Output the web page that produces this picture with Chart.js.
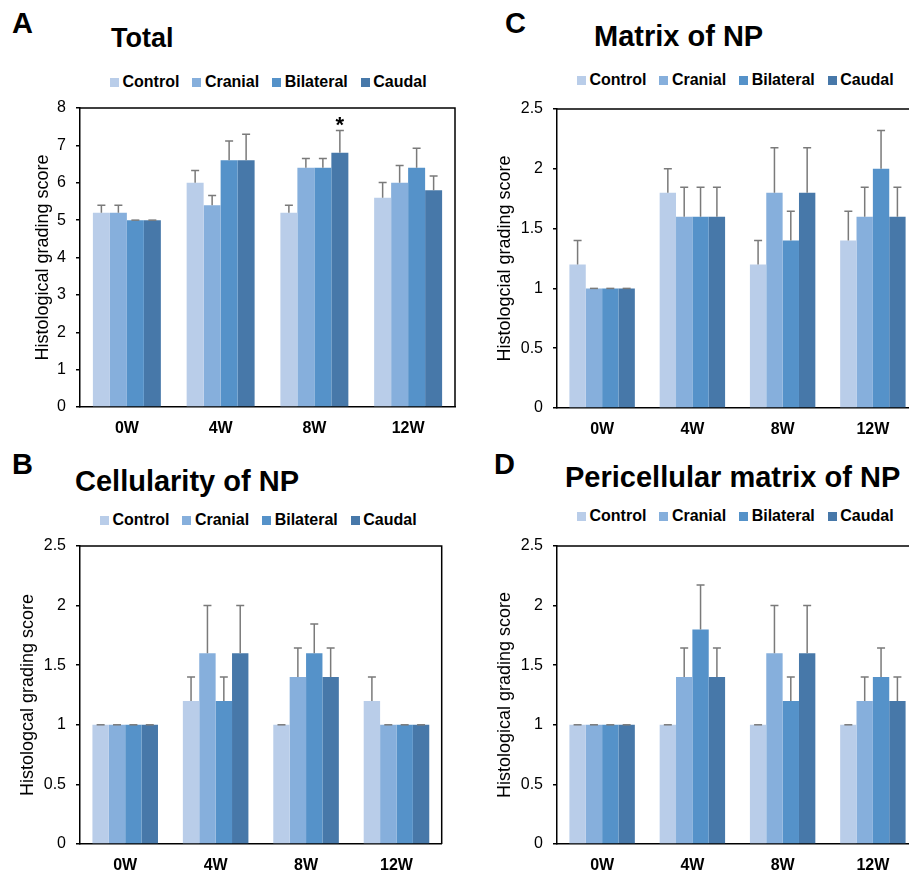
<!DOCTYPE html>
<html><head><meta charset="utf-8">
<script src="https://cdn.jsdelivr.net/npm/chart.js@4.4.1/dist/chart.umd.min.js"></script>
<style>
html,body{margin:0;padding:0;width:909px;height:872px;overflow:hidden;background:#fff;}
body{position:relative;font-family:Arial,"Liberation Sans",sans-serif;color:#000;}
.lbl{position:absolute;font-weight:bold;line-height:1;white-space:nowrap;}
canvas{position:absolute;}
.legend{position:absolute;display:flex;gap:13px;font-weight:bold;font-size:16px;line-height:16px;white-space:nowrap;}
.legend .item{display:inline-flex;align-items:center;}
.legend i{display:inline-block;width:9px;height:9px;margin-right:3.5px;}
</style></head><body>
<div class="lbl" style="left:12px;top:9px;font-size:29px">A</div>
<div class="lbl" style="left:111px;top:25px;font-size:27px">Total</div>
<div class="lbl" style="left:505px;top:9px;font-size:29px">C</div>
<div class="lbl" style="left:594px;top:22px;font-size:29px">Matrix of NP</div>
<div class="lbl" style="left:12px;top:450px;font-size:29px">B</div>
<div class="lbl" style="left:75px;top:467px;font-size:29px">Cellularity of NP</div>
<div class="lbl" style="left:494px;top:450px;font-size:29px">D</div>
<div class="lbl" style="left:565px;top:463px;font-size:29px">Pericellular matrix of NP</div>
<div class="legend" id="legA" style="left:110px;top:74px"></div>
<div class="legend" id="legC" style="left:577px;top:72px"></div>
<div class="legend" id="legB" style="left:100px;top:512px"></div>
<div class="legend" id="legD" style="left:577px;top:508px"></div>
<canvas id="cA"></canvas>
<canvas id="cB"></canvas>
<canvas id="cC"></canvas>
<canvas id="cD"></canvas>
<script>
// ---------- data ----------
const categories = ['0W', '4W', '8W', '12W'];
const seriesNames = ['Control', 'Cranial', 'Bilateral', 'Caudal'];

// A: Total
const totalControl = [5.2, 6.0, 5.2, 5.6];
const totalCranial = [5.2, 5.4, 6.4, 6.0];
const totalBilateral = [5.0, 6.6, 6.4, 6.4];
const totalCaudal = [5.0, 6.6, 6.8, 5.8];
const totalControlErr = [0.2, 0.33, 0.2, 0.41];
const totalCranialErr = [0.2, 0.26, 0.25, 0.46];
const totalBilateralErr = [0, 0.52, 0.25, 0.52];
const totalCaudalErr = [0, 0.7, 0.6, 0.38];
const totalTicks = [0, 1, 2, 3, 4, 5, 6, 7, 8];
const totalMarks = [{series: 3, category: 2, text: '*'}];

// B: Cellularity of NP
const cellControl = [1.0, 1.2, 1.0, 1.2];
const cellCranial = [1.0, 1.6, 1.4, 1.0];
const cellBilateral = [1.0, 1.2, 1.6, 1.0];
const cellCaudal = [1.0, 1.6, 1.4, 1.0];
const cellControlErr = [0, 0.2, 0, 0.2];
const cellCranialErr = [0, 0.4, 0.245, 0];
const cellBilateralErr = [0, 0.2, 0.245, 0];
const cellCaudalErr = [0, 0.4, 0.245, 0];

// C: Matrix of NP
const matControl = [1.2, 1.8, 1.2, 1.4];
const matCranial = [1.0, 1.6, 1.8, 1.6];
const matBilateral = [1.0, 1.6, 1.4, 2.0];
const matCaudal = [1.0, 1.6, 1.8, 1.6];
const matControlErr = [0.2, 0.2, 0.2, 0.245];
const matCranialErr = [0, 0.245, 0.377, 0.245];
const matBilateralErr = [0, 0.245, 0.245, 0.32];
const matCaudalErr = [0, 0.245, 0.377, 0.245];

// D: Pericellular matrix of NP
const periControl = [1.0, 1.0, 1.0, 1.0];
const periCranial = [1.0, 1.4, 1.6, 1.2];
const periBilateral = [1.0, 1.8, 1.2, 1.4];
const periCaudal = [1.0, 1.4, 1.6, 1.2];
const periControlErr = [0, 0, 0, 0];
const periCranialErr = [0, 0.245, 0.4, 0.2];
const periBilateralErr = [0, 0.372, 0.2, 0.245];
const periCaudalErr = [0, 0.245, 0.4, 0.2];

const npTicks = [0, 0.5, 1, 1.5, 2, 2.5];

// ---------- style ----------
const FONT = 'Arial, "Liberation Sans", sans-serif';
const colors = ['#B9CDE9', '#86AFDC', '#5592C9', '#4778A9'];

['legA', 'legB', 'legC', 'legD'].forEach(id => {
  const el = document.getElementById(id);
  seriesNames.forEach((n, i) => {
    const s = document.createElement('span');
    s.className = 'item';
    const b = document.createElement('i');
    b.style.background = colors[i];
    s.appendChild(b);
    s.appendChild(document.createTextNode(n));
    el.appendChild(s);
  });
});

const framePlugin = {
  id: 'frame',
  afterDatasetsDraw(chart) {
    const {ctx, chartArea: a} = chart;
    ctx.save();
    ctx.strokeStyle = '#000';
    ctx.lineWidth = 1.5;
    ctx.beginPath();
    ctx.moveTo(a.left, a.top);
    ctx.lineTo(a.right, a.top);
    ctx.lineTo(a.right, a.bottom);
    ctx.stroke();
    ctx.restore();
  }
};

const errorPlugin = {
  id: 'errbars',
  afterDatasetsDraw(chart) {
    const {ctx} = chart;
    const y = chart.scales.y;
    ctx.save();
    ctx.strokeStyle = '#7A7A7A';
    ctx.lineWidth = 1.5;
    chart.data.datasets.forEach((ds, di) => {
      const meta = chart.getDatasetMeta(di);
      meta.data.forEach((bar, i) => {
        const v = ds.data[i], e = ds.errors[i];
        const yt = y.getPixelForValue(v + e);
        ctx.beginPath();
        ctx.moveTo(bar.x, bar.y);
        ctx.lineTo(bar.x, yt);
        ctx.moveTo(bar.x - 4, yt);
        ctx.lineTo(bar.x + 4, yt);
        ctx.stroke();
      });
    });
    const marks = chart.options.plugins.errbars && chart.options.plugins.errbars.marks || [];
    ctx.fillStyle = '#000';
    ctx.font = 'bold 22px ' + FONT;
    ctx.textAlign = 'center';
    ctx.textBaseline = 'alphabetic';
    marks.forEach(m => {
      const ds = chart.data.datasets[m.series];
      const bar = chart.getDatasetMeta(m.series).data[m.category];
      const yt = y.getPixelForValue(ds.data[m.category] + ds.errors[m.category]);
      ctx.fillText(m.text, bar.x, yt + 2);
    });
    ctx.restore();
  }
};

function makePanel(id, g, values, errors, ticks, yTitle, marks) {
  const canvas = document.getElementById(id);
  const padTop = 22;
  const W = g.cw;
  const H = Math.round(padTop + (g.B - g.T) + 30);
  canvas.width = W; canvas.height = H;
  canvas.style.width = W + 'px'; canvas.style.height = H + 'px';
  canvas.style.left = g.x0 + 'px';
  canvas.style.top = (g.T - padTop) + 'px';
  new Chart(canvas, {
    type: 'bar',
    data: {
      labels: categories,
      datasets: seriesNames.map((n, i) => ({
        label: n, data: values[i], errors: errors[i],
        backgroundColor: colors[i], borderWidth: 0,
        categoryPercentage: 0.725, barPercentage: 1.0
      }))
    },
    options: {
      responsive: false, animation: false, devicePixelRatio: 1,
      layout: {padding: {left: 0, top: padTop, right: W - (g.R - g.x0), bottom: 0}},
      plugins: {legend: {display: false}, tooltip: {enabled: false}, errbars: {marks: marks}},
      scales: {
        x: {
          grid: {display: false},
          border: {display: true, color: '#000', width: 1.5},
          ticks: {font: {size: 16, weight: 'bold', family: FONT}, color: '#000', padding: 4},
          afterFit(s) { s.height = 30; }
        },
        y: {
          min: ticks[0], max: ticks[ticks.length - 1],
          afterBuildTicks(s) { s.ticks = ticks.map(v => ({value: v})); },
          ticks: {font: {size: 16, family: FONT}, color: '#000', padding: 10, callback: v => String(v)},
          grid: {drawOnChartArea: false, drawTicks: true, tickLength: 4, color: '#000', lineWidth: 1.5},
          border: {display: true, color: '#000', width: 1.5},
          title: {display: true, text: yTitle, font: {size: 18, family: FONT}, color: '#000', padding: {top: g.titlePad, bottom: 0}},
          afterFit(s) { s.width = g.L - g.x0; }
        }
      }
    },
    plugins: [framePlugin, errorPlugin]
  });
}

makePanel('cA', {x0: 0, cw: 470, L: 80, T: 108, R: 455, B: 407, titlePad: 32},
  [totalControl, totalCranial, totalBilateral, totalCaudal],
  [totalControlErr, totalCranialErr, totalBilateralErr, totalCaudalErr],
  totalTicks, 'Histological grading score', totalMarks);

makePanel('cB', {x0: 0, cw: 460, L: 80, T: 546, R: 441.7, B: 844, titlePad: 17.5},
  [cellControl, cellCranial, cellBilateral, cellCaudal],
  [cellControlErr, cellCranialErr, cellBilateralErr, cellCaudalErr],
  npTicks, 'Histologcal grading score', []);

makePanel('cC', {x0: 460, cw: 470, L: 557, T: 108.5, R: 918, B: 407, titlePad: 34.7},
  [matControl, matCranial, matBilateral, matCaudal],
  [matControlErr, matCranialErr, matBilateralErr, matCaudalErr],
  npTicks, 'Histologcial grading score', []);

makePanel('cD', {x0: 460, cw: 470, L: 557, T: 546, R: 918, B: 844, titlePad: 34.7},
  [periControl, periCranial, periBilateral, periCaudal],
  [periControlErr, periCranialErr, periBilateralErr, periCaudalErr],
  npTicks, 'Histological grading score', []);
</script>
</body></html>
